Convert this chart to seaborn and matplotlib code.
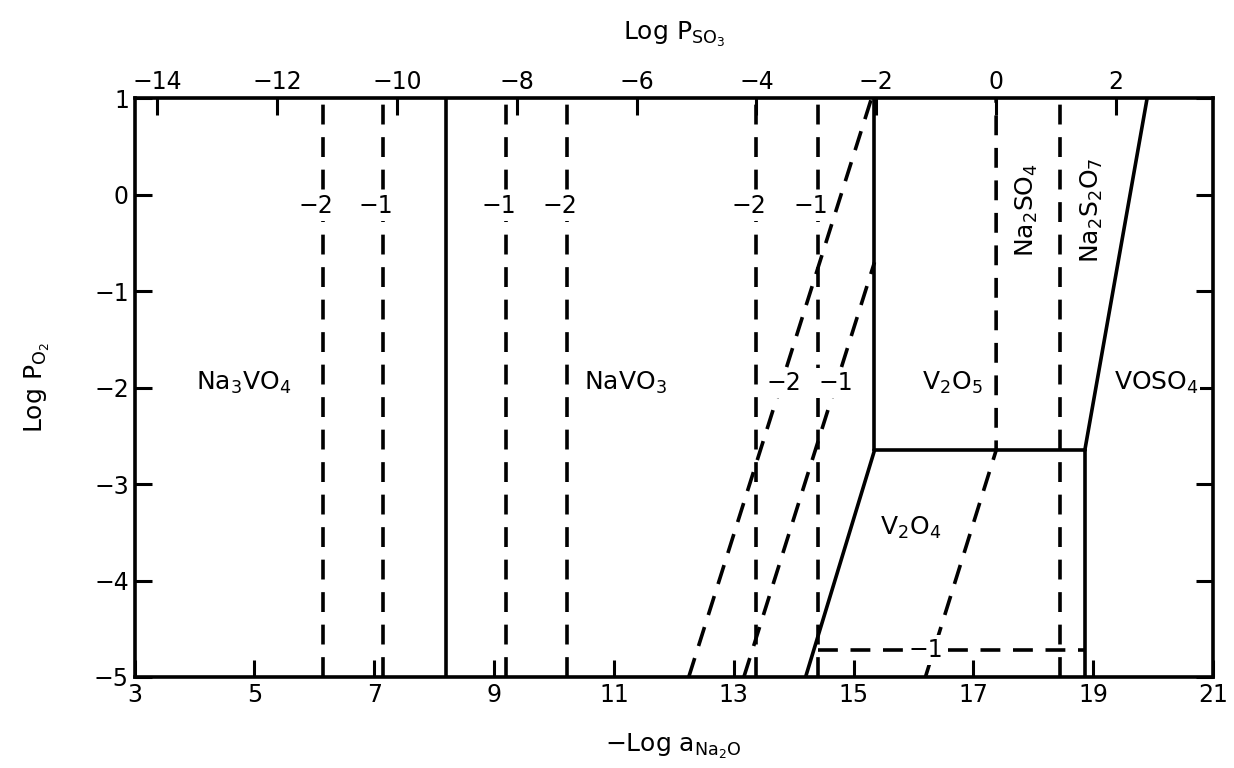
"""Stability diagram of the Na-V-S-O system (Log P_O2 vs -Log a_Na2O)."""

import matplotlib
matplotlib.use("Agg")
import matplotlib.pyplot as plt
import pandas as pd
import seaborn as sns

# phase boundaries as (x, y) polylines in data units
SOLID_X = [[8.2, 8.2], [15.35, 15.35], [14.2, 15.35], [15.35, 18.86], [18.86, 18.86], [18.86, 19.9]]
SOLID_Y = [[-5, 1], [-2.65, 1], [-5, -2.65], [-2.65, -2.65], [-5, -2.65], [-2.65, 1]]

DASHED_VERT_X = [6.15, 7.15, 9.2, 10.22, 13.38, 14.4, 18.45]
DASHED_X = [[12.25, 15.3], [13.17, 15.35], [16.2, 17.38, 17.38], [14.4, 18.86]]
DASHED_Y = [[-5, 1], [-5, -0.7], [-5, -2.65, 1], [-4.72, -4.72]]

# activity labels sitting on the dashed lines
LINE_LABELS = ["−2", "−1", "−1", "−2", "−2", "−1", "−2", "−1", "−1"]
LINE_LABEL_X = [6.03, 7.03, 9.08, 10.1, 13.26, 14.28, 13.83, 14.7, 16.2]
LINE_LABEL_Y = [-0.12, -0.12, -0.12, -0.12, -0.12, -0.12, -1.95, -1.95, -4.72]

PHASES = ["Na$_3$VO$_4$", "NaVO$_3$", "V$_2$O$_5$", "VOSO$_4$", "V$_2$O$_4$",
          "Na$_2$SO$_4$", "Na$_2$S$_2$O$_7$"]
PHASE_X = [4.82, 11.2, 16.65, 20.05, 15.95, 17.9, 18.98]
PHASE_Y = [-1.95, -1.95, -1.95, -1.95, -3.45, -0.16, -0.16]
PHASE_ROT = [0, 0, 0, 0, 0, 90, 90]

X_TICKS = [3, 5, 7, 9, 11, 13, 15, 17, 19, 21]
Y_TICKS = [1, 0, -1, -2, -3, -4, -5]
SO3_TICKS = [-14, -12, -10, -8, -6, -4, -2, 0, 2]
SO3_OFFSET = 17.38


def build_frame():
    rows = []
    seg = 0
    for xs, ys in zip(SOLID_X, SOLID_Y):
        for x, y in zip(xs, ys):
            rows.append({"seg": seg, "x": x, "y": y, "kind": "solid"})
        seg += 1
    for xv in DASHED_VERT_X:
        for y in (-5, 1):
            rows.append({"seg": seg, "x": xv, "y": y, "kind": "dashed"})
        seg += 1
    for xs, ys in zip(DASHED_X, DASHED_Y):
        for x, y in zip(xs, ys):
            rows.append({"seg": seg, "x": x, "y": y, "kind": "dashed"})
        seg += 1
    return pd.DataFrame(rows)


def main():
    sns.set_style("ticks", {"axes.edgecolor": "black", "text.color": "black",
                            "xtick.color": "black", "ytick.color": "black",
                            "axes.labelcolor": "black"})
    plt.rcParams["font.family"] = ["DejaVu Sans"]
    plt.rcParams["mathtext.default"] = "regular"

    df = build_frame()
    fig, ax = plt.subplots(figsize=(12.34, 7.68), dpi=100)
    fig.subplots_adjust(left=0.109, right=0.983, bottom=0.1185, top=0.872)

    sns.lineplot(data=df, x="x", y="y", units="seg", estimator=None, sort=False,
                 style="kind", dashes={"solid": "", "dashed": (5.5, 3.5)},
                 color="black", linewidth=2.6, legend=False, ax=ax)

    for txt, x, y in zip(LINE_LABELS, LINE_LABEL_X, LINE_LABEL_Y):
        ax.text(x, y, txt, ha="center", va="center", fontsize=17, zorder=5,
                bbox=dict(facecolor="white", edgecolor="none", pad=2))
    for txt, x, y, rot in zip(PHASES, PHASE_X, PHASE_Y, PHASE_ROT):
        ax.text(x, y, txt, ha="center", va="center", fontsize=18, rotation=rot, zorder=5,
                bbox=dict(facecolor="white", edgecolor="none", pad=1.5))

    ax.set_xlim(3, 21)
    ax.set_ylim(-5, 1)
    ax.set_xticks(X_TICKS)
    ax.set_yticks(Y_TICKS)
    ax.set_xlabel("−Log a$_{Na_2O}$", fontsize=18, labelpad=18)
    ax.set_ylabel("Log P$_{O_2}$", fontsize=18, labelpad=30)
    ax.tick_params(direction="in", length=12, width=2.2, labelsize=17, right=True, top=False, pad=4)
    for sp in ax.spines.values():
        sp.set_visible(True)
        sp.set_linewidth(2.6)

    top = ax.secondary_xaxis("top", functions=(lambda v: v - SO3_OFFSET, lambda v: v + SO3_OFFSET))
    top.set_xticks(SO3_TICKS)
    top.tick_params(direction="in", length=12, width=2.2, labelsize=17, pad=3)
    top.set_xlabel("Log P$_{SO_3}$", fontsize=18, labelpad=22)

    fig.savefig("out.png", dpi=100)


if __name__ == "__main__":
    main()
